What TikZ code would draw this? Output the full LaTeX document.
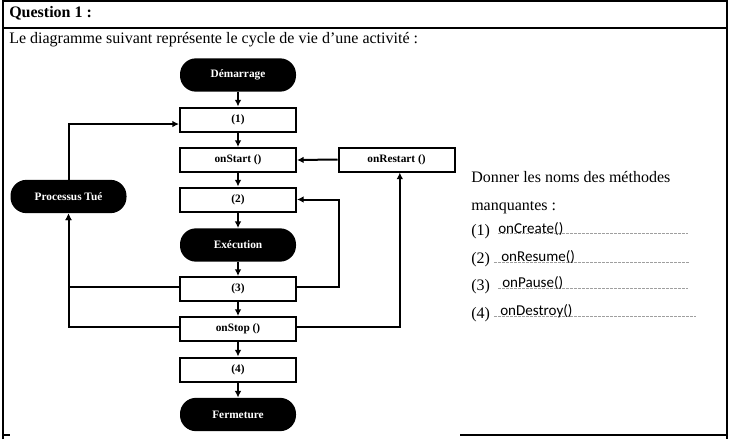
\documentclass[tikz,border=0pt]{standalone}
\usepackage{fontspec}
\setmainfont{Liberation Serif}
\newfontfamily\carlito{Carlito}
\usetikzlibrary{arrows.meta}
\begin{document}
\begin{tikzpicture}[x=0.75pt,y=-0.75pt,
  frameline/.style={line width=1.1pt},
  pill/.style={fill=black, rounded corners=12pt, minimum width=87pt, minimum height=25pt,
    text=white, inner sep=0pt, font=\fontsize{8.5}{10}\selectfont\bfseries},
  stepbox/.style={draw, line width=1.5pt, minimum width=87pt, minimum height=18pt,
    inner sep=0pt, font=\fontsize{8.5}{10}\selectfont\bfseries},
  conn/.style={line width=1.5pt, -{Latex[length=5pt,width=5pt]}},
  dots/.style={gray!75, line width=0.6pt, dash pattern=on 2.2pt off 0.8pt},
  txt/.style={anchor=base west, inner sep=0pt, font=\fontsize{12}{14}\selectfont},
  ans/.style={anchor=base west, inner sep=0pt, font=\carlito\fontsize{11.3}{13}\selectfont}]
\useasboundingbox (0,0) rectangle (730,439);

% frame
\draw[frameline] (3,439) -- (3,1) -- (727,1) -- (727,439);
\draw[frameline] (3,28) -- (727,28);
\draw[frameline] (3,435) -- (10,435);
\draw[frameline] (460,435) -- (727,435);

\node[txt, font=\fontsize{12}{14}\selectfont\bfseries] (q) at (9,17) {Question 1 :};
\node[txt] (intro) at (9,43) {Le diagramme suivant représente le cycle de vie d’une activité :};

% diagram nodes
\node[pill] (dem) at (238,75) {Démarrage};
\node[stepbox] (n1) at (238,119.5) {(1)};
\node[stepbox] (onstart) at (238,160) {onStart ()};
\node[stepbox] (n2) at (238,199.5) {(2)};
\node[pill] (exec) at (238,245) {Exécution};
\node[stepbox] (n3) at (238,289) {(3)};
\node[stepbox] (onstop) at (238,329) {onStop ()};
\node[stepbox] (n4) at (238,369.5) {(4)};
\node[pill] (ferm) at (238,414.5) {Fermeture};
\node[pill] (ptue) at (68.5,196.5) {Processus Tué};
\node[stepbox] (onrestart) at (396.5,159.5) {onRestart ()};

\coordinate (r2) at (339,199.5);

% connectors
\draw[conn] (dem) -- (n1);
\draw[conn] (n1) -- (onstart);
\draw[conn] (onstart) -- (n2);
\draw[conn] (n2) -- (exec);
\draw[conn] (exec) -- (n3);
\draw[conn] (n3) -- (onstop);
\draw[conn] (onstop) -- (n4);
\draw[conn] (n4) -- (ferm);
\draw[conn] (ptue.north) |- ([yshift=-3.4pt]n1.west);
\draw[conn] (onrestart.west) -- (onstart.east);
\draw[conn] ([yshift=1.5pt]n3.east) -| (r2) -- (n2.east);
\draw[conn] ([yshift=1.5pt]n3.west) -| (ptue.south);
\draw[conn] ([yshift=1.5pt]onstop.west) -| (ptue.south);
\draw[conn] ([yshift=1.5pt]onstop.east) -| ([xshift=2.5pt]onrestart.south);

% right text
\node[txt] (t1) at (471,182) {Donner les noms des méthodes};
\node[txt] (t2) at (471,210) {manquantes :};
\node[txt] (p1) at (471,235.3) {(1)};
\node[txt] (p2) at (471,263.7) {(2)};
\node[txt] (p3) at (471,290.3) {(3)};
\node[txt] (p4) at (471,318.7) {(4)};

\draw[dots] (498,233) -- (688,233);
\draw[dots] (494,262) -- (689,262);
\draw[dots] (498,288.5) -- (688,288.5);
\draw[dots] (494,316) -- (696,316);

\node[ans] (a1) at (498,233.7) {onCreate()};
\node[ans] (a2) at (501,261.3) {onResume()};
\node[ans] (a3) at (502,287.7) {onPause()};
\node[ans] (a4) at (500,315.3) {onDestroy()};
\end{tikzpicture}
\end{document}
